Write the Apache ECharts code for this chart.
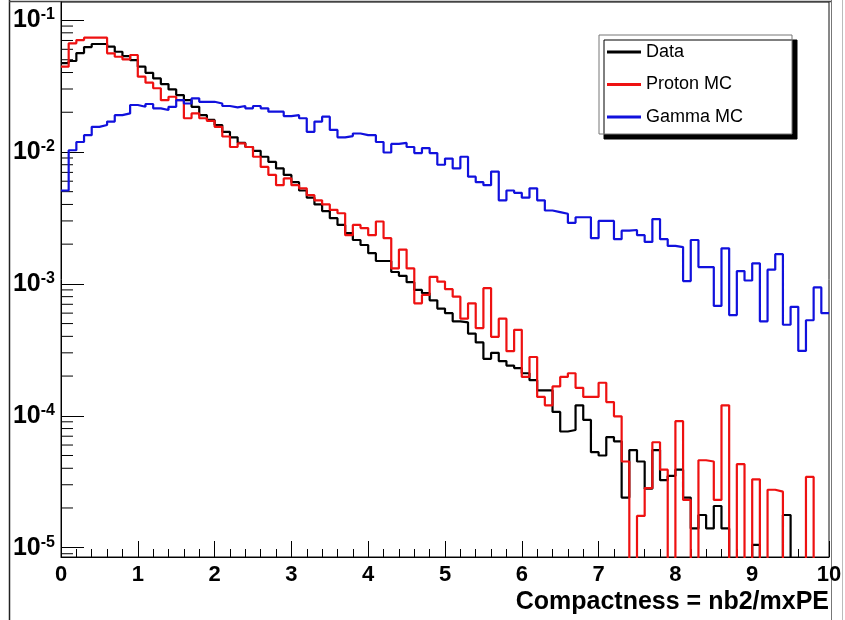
<!DOCTYPE html>
<html>
<head>
<meta charset="utf-8">
<script src="https://cdn.jsdelivr.net/npm/echarts@6/dist/echarts.min.js"></script>
<style>
  html, body { margin: 0; padding: 0; background: #fff; }
  #chart { width: 845px; height: 620px; }
</style>
</head>
<body>
<div id="chart"></div>
<script>
// Histogram binning: 100 bins of width 0.1 covering [0, 10]
const binLow = 0;
const binWidth = 0.1;
const binCount = 100;

// Normalised bin contents (fraction of events per bin)
const dataCounts = [
  0.0472, 0.0489, 0.0562, 0.0624, 0.0658, 0.0658, 0.0628, 0.0575, 0.0533, 0.0497,
  0.0443, 0.0398, 0.0361, 0.0327, 0.0298, 0.0270, 0.0247, 0.0220, 0.0190, 0.0175,
  0.0160, 0.0142, 0.0129, 0.0117, 0.0109, 0.0102, 0.0092, 0.0084, 0.0075, 0.0067,
  0.0059, 0.0051, 0.0045, 0.0040, 0.00356, 0.00315, 0.0028, 0.00243, 0.00215, 0.00197,
  0.00171, 0.00149, 0.00149, 0.00123, 0.00115, 0.00103, 0.00090, 0.00085, 0.00075, 0.00065,
  0.00060, 0.00052, 0.00051, 0.00042, 0.00036, 0.00027, 0.00030, 0.00026, 0.00024, 0.00023,
  0.00021, 0.000186, 0.000156, 0.000156, 0.000107, 7.6e-5, 7.8e-5, 1.2e-4, 9.3e-5, 5.3e-5,
  5.0e-5, 6.9e-5, 6.4e-5, 2.4e-5, 5.5e-5, 4.5e-5, 2.8e-5, 5.5e-5, 3.25e-5, 3.5e-5,
  3.9e-5, 2.4e-5, 1.4e-5, 1.77e-5, 1.4e-5, 2.07e-5, 1.4e-5, 0, 0, 0,
  1.05e-5, 0, 0, 0, 1.77e-5, 0, 0, 0, 0, 0
];

const protonCounts = [
  0.0443, 0.0666, 0.0705, 0.0735, 0.0735, 0.0735, 0.0559, 0.0527, 0.0503, 0.0543,
  0.0372, 0.0335, 0.0304, 0.0247, 0.0262, 0.0247, 0.0180, 0.0196, 0.0180, 0.0172,
  0.0155, 0.0131, 0.0109, 0.0116, 0.0109, 0.0092, 0.0077, 0.0067, 0.0056, 0.0063,
  0.0056, 0.0053, 0.0047, 0.0043, 0.0040, 0.00364, 0.00343, 0.00234, 0.0028, 0.00265,
  0.00234, 0.00297, 0.00222, 0.00131, 0.00182, 0.00131, 0.000712, 0.000824, 0.00113, 0.00104,
  0.000911, 0.000800, 0.000545, 0.000712, 0.000462, 0.000928, 0.000397, 0.000545, 0.000309, 0.000448,
  0.000197, 0.000279, 0.000139, 0.000120, 0.000167, 0.000197, 0.000210, 0.000163, 0.000139, 0.000139,
  0.000178, 0.000127, 9.9e-5, 4.5e-5, 0, 1.74e-5, 2.83e-5, 6.3e-5, 3.9e-5, 0,
  9.1e-5, 2.3e-5, 0, 4.6e-5, 4.5e-5, 2.3e-5, 1.2e-4, 0, 4.3e-5, 0,
  3.3e-5, 0, 2.75e-5, 2.66e-5, 0, 0, 0, 3.44e-5, 0, 0
];

const gammaCounts = [
  0.0051, 0.0103, 0.0119, 0.0134, 0.0155, 0.0160, 0.0170, 0.0190, 0.0196, 0.0227,
  0.0220, 0.0231, 0.0214, 0.0208, 0.0220, 0.0247, 0.0233, 0.0255, 0.0240, 0.0240,
  0.0233, 0.0223, 0.0218, 0.0223, 0.0214, 0.0223, 0.0214, 0.0202, 0.0202, 0.0187,
  0.0190, 0.0180, 0.0142, 0.0170, 0.0185, 0.0147, 0.0129, 0.0132, 0.0138, 0.0134,
  0.0134, 0.0119, 0.0099, 0.0115, 0.0117, 0.0109, 0.0098, 0.0107, 0.0098, 0.0080,
  0.0089, 0.0075, 0.0092, 0.0065, 0.0059, 0.0056, 0.0071, 0.0043, 0.0051, 0.0049,
  0.0045, 0.0053, 0.0043, 0.0036, 0.0035, 0.0034, 0.0029, 0.0032, 0.0032, 0.00222,
  0.0030, 0.0030, 0.00218, 0.00253, 0.00256, 0.00234, 0.00208, 0.0031, 0.00218, 0.00194,
  0.00190, 0.00105, 0.00215, 0.00134, 0.00134, 0.00068, 0.00186, 0.00058, 0.00125, 0.00106,
  0.00143, 0.00052, 0.00128, 0.00168, 0.00049, 0.00067, 0.00031, 0.00053, 0.00094, 0.00060
];

const seriesNames = ['Data', 'Proton MC', 'Gamma MC'];
const seriesColors = ['#000000', '#ee1111', '#1111dd'];
const axisTitle = 'Compactness = nb2/mxPE';

// Y range of the frame (log scale)
const yMin = 8.5e-6;
const yMax = 0.137;
// Empty bins fall below the frame and are clipped away
const emptyBinFloor = 1e-7;

const FONT = '"Liberation Sans", Arial, Helvetica, sans-serif';

// Step outline: one point per lower bin edge, plus the upper edge of the last bin
function histogramPoints(counts) {
  const pts = counts.map((c, i) => [binLow + i * binWidth, c > 0 ? c : emptyBinFloor]);
  const last = counts[counts.length - 1];
  pts.push([binLow + binCount * binWidth, last > 0 ? last : emptyBinFloor]);
  return pts;
}

// Minor ticks of the log axis at 2..9 x 10^k
const minorTickValues = [];
for (let k = -6; k <= -1; k++) {
  for (let m = 2; m <= 9; m++) {
    const v = m * Math.pow(10, k);
    if (v > yMin && v < yMax) minorTickValues.push(v);
  }
}

const chart = echarts.init(document.getElementById('chart'), null, { renderer: 'canvas' });

const histSeries = [dataCounts, protonCounts, gammaCounts].map((counts, i) => ({
  name: seriesNames[i],
  type: 'line',
  step: 'end',
  data: histogramPoints(counts),
  showSymbol: false,
  symbol: 'none',
  clip: true,
  color: seriesColors[i],
  lineStyle: { color: seriesColors[i], width: 2.2 },
  z: 3 + i,
  animation: false
}));

chart.setOption({
  animation: false,
  backgroundColor: '#ffffff',
  // x-axis title, right-aligned under the frame
  title: {
    text: axisTitle,
    right: 16, top: 589,
    padding: 0,
    textStyle: { fontFamily: FONT, fontSize: 25, fontWeight: 'bold', color: '#000', lineHeight: 26 }
  },
  grid: {
    left: 61, right: 16, top: 2, bottom: 63,
    show: true, borderColor: '#111', borderWidth: 1,
    containLabel: false,
    outerBoundsMode: 'none'
  },
  legend: {
    orient: 'vertical',
    left: 599, top: 35,
    data: seriesNames.map(n => ({ name: n, icon: 'rect' })),
    itemWidth: 34, itemHeight: 3,
    itemGap: 12.5,
    padding: [7, 49, 7, 8],
    backgroundColor: '#ffffff',
    borderColor: '#777', borderWidth: 1,
    shadowColor: '#000', shadowOffsetX: 5, shadowOffsetY: 5, shadowBlur: 0,
    selectedMode: false,
    textStyle: { fontFamily: FONT, fontSize: 18, color: '#000', lineHeight: 20 }
  },
  xAxis: {
    type: 'value',
    min: 0, max: 10, interval: 1,
    axisLine: { show: true, onZero: false, lineStyle: { color: '#000', width: 1 } },
    axisTick: { show: true, inside: true, length: 16, lineStyle: { color: '#000', width: 1 } },
    minorTick: { show: true, splitNumber: 5, length: 8, lineStyle: { color: '#000', width: 1 } },
    axisLabel: {
      fontFamily: FONT, fontSize: 22, fontWeight: 'bold', color: '#000', margin: 7
    },
    splitLine: { show: false },
    minorSplitLine: { show: false }
  },
  yAxis: {
    type: 'log',
    logBase: 10,
    min: yMin, max: yMax,
    axisLine: { show: true, onZero: false, lineStyle: { color: '#000', width: 1 } },
    axisTick: { show: true, inside: true, length: 23, lineStyle: { color: '#000', width: 1 } },
    axisLabel: {
      margin: 6,
      showMinLabel: false, showMaxLabel: false,
      formatter: function (v) {
        const e = Math.log10(v);
        const k = Math.round(e);
        if (Math.abs(e - k) > 1e-6) return '';
        return '{b|10}{s|' + k + '}';
      },
      rich: {
        b: { fontFamily: FONT, fontSize: 25, fontWeight: 'bold', color: '#000', lineHeight: 26, verticalAlign: 'bottom' },
        s: { fontFamily: FONT, fontSize: 16, fontWeight: 'bold', color: '#000', lineHeight: 16, verticalAlign: 'top' }
      }
    },
    splitLine: { show: false },
    minorSplitLine: { show: false }
  },
  graphic: [
    { type: 'line', shape: { x1: 9.5, y1: 0, x2: 9.5, y2: 620 }, style: { stroke: '#222', lineWidth: 1.5 }, silent: true },
    { type: 'line', shape: { x1: 9, y1: 1.5, x2: 832, y2: 1.5 }, style: { stroke: '#444', lineWidth: 1.5 }, silent: true },
    { type: 'line', shape: { x1: 831.5, y1: 0, x2: 831.5, y2: 620 }, style: { stroke: '#777', lineWidth: 1 }, silent: true },
    { type: 'line', shape: { x1: 842.5, y1: 0, x2: 842.5, y2: 620 }, style: { stroke: '#bbb', lineWidth: 1 }, silent: true }
  ],
  series: histSeries.concat([{
    type: 'custom',
    name: 'minorTicks',
    coordinateSystem: 'cartesian2d',
    silent: true,
    animation: false,
    data: minorTickValues.map(v => [0, v]),
    renderItem: function (params, api) {
      const p = api.coord([0, api.value(1)]);
      return {
        type: 'line',
        shape: { x1: p[0], y1: p[1], x2: p[0] + 12, y2: p[1] },
        style: { stroke: '#000', lineWidth: 1 }
      };
    },
    z: 1
  }])
});
</script>
</body>
</html>
